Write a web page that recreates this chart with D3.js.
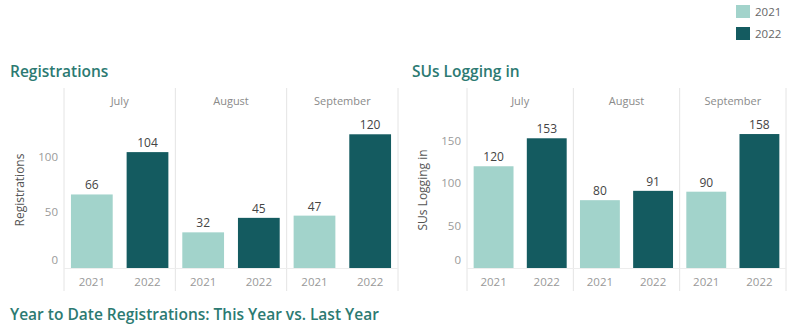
<!DOCTYPE html>
<html>
<head>
<meta charset="utf-8">
<script src="https://cdn.jsdelivr.net/npm/d3@7"></script>
<style>
  html, body { margin: 0; padding: 0; background: #fff; }
  svg { display: block; font-family: "Open Sans", "Noto Sans", sans-serif; }
</style>
</head>
<body>
<svg id="chart" width="787" height="326"></svg>
<script>
// Monthly comparison data
const months = ["July", "August", "September"];
const years = ["2021", "2022"];
const registrations2021 = [66, 32, 47];
const registrations2022 = [104, 45, 120];
const logins2021 = [120, 80, 90];
const logins2022 = [153, 91, 158];
const registrationTicks = [0, 50, 100];
const loginTicks = [0, 50, 100, 150];

const colors = { "2021": "#a2d3cb", "2022": "#145b60" };
const titleColor = "#2c7a72";

const svg = d3.select("#chart");

// Legend (top right)
const legend = svg.append("g").attr("transform", "translate(736,5)");
years.forEach((yr, i) => {
  const g = legend.append("g").attr("transform", `translate(0,${i * 22})`);
  g.append("rect").attr("width", 14).attr("height", 13).attr("fill", colors[yr]);
  g.append("text").attr("x", 19).attr("y", 11).attr("font-size", 11.5)
    .attr("fill", "#666").text(yr);
});

function panel(opts) {
  const { title, titleX, axisTitle, x0, x1, yMax, ticks, s2021, s2022 } = opts;
  const top = 112, base = 268;
  const g = svg.append("g");

  g.append("text").attr("x", titleX).attr("y", 77)
    .attr("font-size", 15.5).attr("font-weight", 600)
    .attr("fill", titleColor).text(title);

  const xMonth = d3.scaleBand().domain(months).range([x0, x1]).padding(0);
  const xYear = d3.scaleBand().domain(years).range([0, xMonth.bandwidth()])
    .paddingInner(0.25).paddingOuter(0.125);
  const y = d3.scaleLinear().domain([0, yMax]).range([base, top]);

  // Column dividers
  const edges = months.map(m => xMonth(m)).concat([x1]);
  g.selectAll("line.div").data(edges).join("line")
    .attr("x1", d => d).attr("x2", d => d)
    .attr("y1", 88).attr("y2", 291)
    .attr("stroke", "#e4e4e4").attr("stroke-width", 1);

  // Zero line
  g.append("line").attr("x1", x0).attr("x2", x1)
    .attr("y1", y(0) + 0.5).attr("y2", y(0) + 0.5)
    .attr("stroke", "#ededed");

  // Month headers
  g.selectAll("text.month").data(months).join("text")
    .attr("x", d => xMonth(d) + xMonth.bandwidth() / 2).attr("y", 105)
    .attr("text-anchor", "middle").attr("font-size", 11)
    .attr("fill", "#8a8a8a").text(d => d);

  // Y axis
  const yAxis = g.append("g").attr("transform", `translate(${x0 - 6},0)`)
    .call(d3.axisLeft(y).tickValues(ticks).tickSize(0).tickPadding(0));
  yAxis.select(".domain").remove();
  yAxis.selectAll("text").attr("font-size", 11.5).attr("fill", "#9a9a9a")
    .attr("font-family", "'Open Sans', sans-serif")
    .attr("dy", d => d === 0 ? "-0.35em" : "0.32em");

  g.append("text")
    .attr("transform", `translate(${x0 - 40},${(top + base) / 2}) rotate(-90)`)
    .attr("text-anchor", "middle").attr("font-size", 12)
    .attr("fill", "#555").text(axisTitle);

  const rows = [];
  months.forEach((m, i) => {
    rows.push({ month: m, year: "2021", value: s2021[i] });
    rows.push({ month: m, year: "2022", value: s2022[i] });
  });

  const cells = g.selectAll("g.cell").data(rows).join("g")
    .attr("transform", d => `translate(${xMonth(d.month) + xYear(d.year)},0)`);

  cells.append("rect")
    .attr("x", 0).attr("width", xYear.bandwidth())
    .attr("y", d => y(d.value)).attr("height", d => y(0) - y(d.value))
    .attr("fill", d => colors[d.year]);

  cells.append("text")
    .attr("x", xYear.bandwidth() / 2).attr("y", d => y(d.value) - 5)
    .attr("text-anchor", "middle").attr("font-size", 12)
    .attr("fill", "#444").text(d => d.value);

  cells.append("text")
    .attr("x", xYear.bandwidth() / 2).attr("y", 286)
    .attr("text-anchor", "middle").attr("font-size", 11.5)
    .attr("fill", "#999").text(d => d.year);
}

panel({
  title: "Registrations", titleX: 10, axisTitle: "Registrations",
  x0: 64, x1: 398, yMax: 140, ticks: registrationTicks,
  s2021: registrations2021, s2022: registrations2022
});

panel({
  title: "SUs Logging in", titleX: 412, axisTitle: "SUs Logging in",
  x0: 467, x1: 786, yMax: 184, ticks: loginTicks,
  s2021: logins2021, s2022: logins2022
});

svg.append("text").attr("x", 10).attr("y", 320)
  .attr("font-size", 15.5).attr("font-weight", 600)
  .attr("fill", titleColor)
  .text("Year to Date Registrations: This Year vs. Last Year");
</script>
</body>
</html>
